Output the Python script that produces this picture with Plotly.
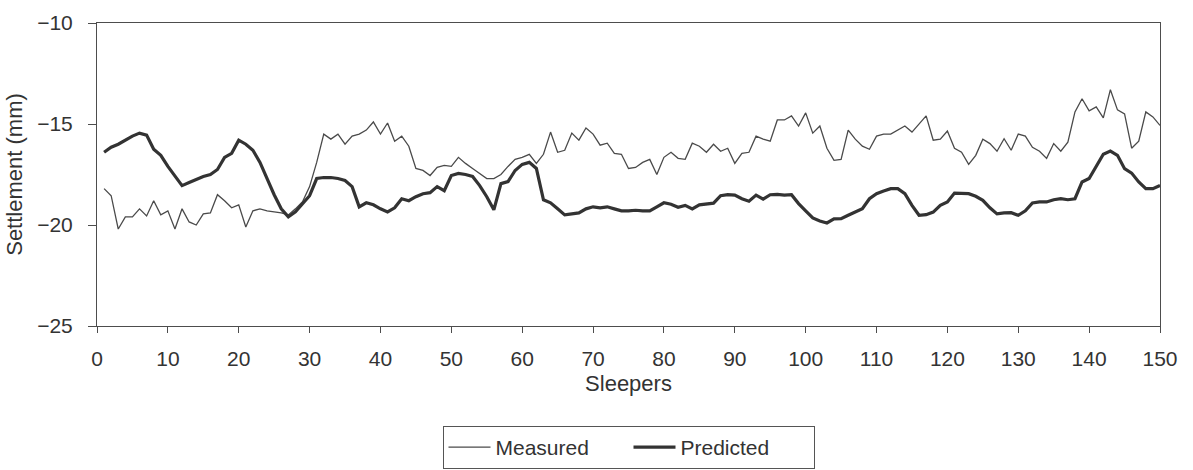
import plotly.graph_objects as go

# Sleeper index along the track
sleepers = list(range(1, 151))

# Measured settlement (mm)
measured = [
    -18.2, -18.55, -20.2, -19.6, -19.6, -19.2, -19.55, -18.8, -19.5, -19.3,
    -20.2, -19.2, -19.85, -20.0, -19.45, -19.4, -18.5, -18.8, -19.15, -19.0,
    -20.1, -19.3, -19.2, -19.3, -19.35, -19.4, -19.5, -19.2, -18.85, -18.1,
    -16.9, -15.5, -15.75, -15.5, -16.0, -15.6, -15.5, -15.3, -14.9, -15.5,
    -14.95, -15.85, -15.6, -16.1, -17.2, -17.3, -17.55, -17.15, -17.05, -17.1,
    -16.65, -16.95, -17.2, -17.45, -17.7, -17.7, -17.5, -17.1, -16.75, -16.65,
    -16.5, -16.95, -16.5, -15.4, -16.4, -16.3, -15.45, -15.8, -15.2, -15.5,
    -16.05, -15.95, -16.45, -16.5, -17.2, -17.15, -16.9, -16.75, -17.5, -16.65,
    -16.4, -16.7, -16.75, -15.95, -16.1, -16.4, -16.0, -16.35, -16.2, -16.95,
    -16.45, -16.4, -15.6, -15.75, -15.85, -14.8, -14.8, -14.6, -15.1, -14.45,
    -15.45, -15.1, -16.2, -16.8, -16.75, -15.3, -15.75, -16.1, -16.25, -15.6,
    -15.5, -15.5, -15.3, -15.1, -15.4, -15.0, -14.6, -15.8, -15.75, -15.35,
    -16.2, -16.4, -17.0, -16.55, -15.75, -15.97, -16.35, -15.73, -16.3, -15.5,
    -15.6, -16.15, -16.35, -16.7, -15.97, -16.35, -15.9, -14.4, -13.75, -14.35,
    -14.15, -14.7, -13.3, -14.3, -14.5, -16.2, -15.85, -14.4, -14.65, -15.07,
]

# Predicted settlement (mm)
predicted = [
    -16.4, -16.15, -16.0, -15.8, -15.6, -15.45, -15.55, -16.25, -16.55, -17.1,
    -17.6, -18.05, -17.9, -17.75, -17.6, -17.5, -17.25, -16.65, -16.45, -15.8,
    -16.0, -16.3, -16.9, -17.7, -18.5, -19.2, -19.6, -19.35, -18.95, -18.55,
    -17.7, -17.65, -17.65, -17.7, -17.8, -18.1, -19.1, -18.9, -19.0, -19.2,
    -19.35, -19.15, -18.7, -18.8, -18.6, -18.45, -18.4, -18.1, -18.3, -17.55,
    -17.45, -17.5, -17.6, -18.05, -18.6, -19.25, -17.95, -17.85, -17.3, -17.0,
    -16.9, -17.2, -18.75, -18.9, -19.2, -19.5, -19.45, -19.4, -19.2, -19.1,
    -19.15, -19.1, -19.2, -19.3, -19.3, -19.27, -19.3, -19.3, -19.1, -18.9,
    -18.97, -19.12, -19.03, -19.2, -19.0, -18.95, -18.92, -18.55, -18.5, -18.52,
    -18.7, -18.82, -18.52, -18.72, -18.5, -18.48, -18.52, -18.5, -18.94, -19.3,
    -19.65, -19.8, -19.9, -19.7, -19.69, -19.52, -19.36, -19.19, -18.7, -18.45,
    -18.32, -18.2, -18.2, -18.45, -19.03, -19.52, -19.49, -19.36, -19.03, -18.86,
    -18.42, -18.42, -18.45, -18.58, -18.78, -19.15, -19.45, -19.4, -19.39, -19.52,
    -19.3, -18.91, -18.86, -18.86, -18.75, -18.7, -18.75, -18.7, -17.87, -17.7,
    -17.1, -16.5, -16.34, -16.55, -17.21, -17.43, -17.87, -18.2, -18.2, -18.04,
]

x_ticks = list(range(0, 151, 10))
y_ticks = [-25, -20, -15, -10]

FONT = "Liberation Sans, Arial, sans-serif"
TEXT = "#333333"
AXIS = "#4d4d4d"

fig = go.Figure()
fig.add_trace(go.Scatter(
    x=sleepers, y=measured, mode="lines", name="Measured",
    line=dict(color="#4a4a4a", width=1.3),
))
fig.add_trace(go.Scatter(
    x=sleepers, y=predicted, mode="lines", name="Predicted",
    line=dict(color="#333333", width=3.2),
))

fig.update_layout(
    width=1193, height=470,
    margin=dict(l=97, r=33, t=23, b=144, autoexpand=False),
    paper_bgcolor="white", plot_bgcolor="white",
    font=dict(family=FONT, size=21, color=TEXT),
    showlegend=True,
    legend=dict(
        orientation="h", x=0.5, xanchor="center",
        yref="container", y=1 - 426 / 470, yanchor="top",
        bordercolor="#555555", borderwidth=1, bgcolor="white",
        font=dict(family=FONT, size=21, color=TEXT),
        itemwidth=42, entrywidth=128, traceorder="normal",
    ),
)

fig.update_xaxes(
    range=[0, 150], tickmode="array", tickvals=x_ticks,
    showgrid=False, zeroline=False, automargin=False,
    showline=True, linecolor=AXIS, linewidth=1, mirror=True,
    ticks="outside", ticklen=6, tickcolor=AXIS, ticklabelstandoff=8,
    tickfont=dict(family=FONT, size=21, color=TEXT),
    title=dict(text="Sleepers", font=dict(family=FONT, size=22, color=TEXT), standoff=6),
)
fig.update_yaxes(
    range=[-25, -10], tickmode="array", tickvals=y_ticks,
    showgrid=False, zeroline=False, automargin=False,
    showline=True, linecolor=AXIS, linewidth=1, mirror=True,
    ticks="outside", ticklen=8, tickcolor=AXIS, ticklabelstandoff=11,
    tickfont=dict(family=FONT, size=21, color=TEXT),
    title=dict(text="Settlement (mm)", font=dict(family=FONT, size=22, color=TEXT), standoff=8),
)

fig.write_html("out.html")
